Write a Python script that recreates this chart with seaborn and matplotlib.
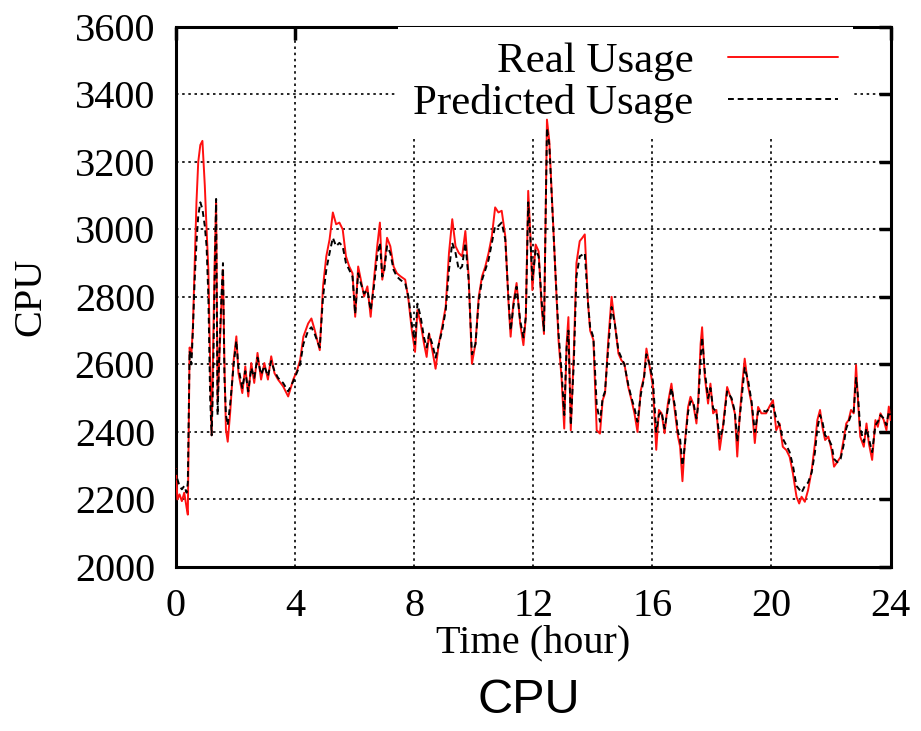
import matplotlib
matplotlib.use("Agg")
import matplotlib.pyplot as plt
import numpy as np
import pandas as pd
import seaborn as sns

# ---------------- data ----------------
hours = [0.00, 0.05, 0.12, 0.20, 0.28, 0.36, 0.40, 0.46, 0.52, 0.57, 0.63, 0.69, 0.75, 0.82, 0.89, 0.97,
         1.03, 1.09, 1.15, 1.20, 1.25, 1.30, 1.35, 1.40, 1.46, 1.52, 1.58, 1.63, 1.68, 1.74, 1.82, 1.94,
         2.03, 2.10, 2.23, 2.33, 2.43, 2.53, 2.63, 2.74, 2.86, 2.97, 3.09, 3.20, 3.31, 3.43, 3.60, 3.77,
         3.94, 4.06, 4.17, 4.28, 4.44, 4.55, 4.66, 4.83, 4.94, 5.05, 5.16, 5.27, 5.38, 5.49, 5.60, 5.71,
         5.82, 5.93, 6.02, 6.12, 6.21, 6.32, 6.43, 6.54, 6.65, 6.76, 6.85, 6.93, 7.00, 7.09, 7.20, 7.31,
         7.42, 7.54, 7.70, 7.81, 7.92, 8.03, 8.11, 8.22, 8.33, 8.42, 8.50, 8.61, 8.72, 8.83, 8.94, 9.06,
         9.17, 9.28, 9.39, 9.50, 9.61, 9.72, 9.83, 9.94, 10.06, 10.17, 10.28, 10.39, 10.50, 10.61, 10.72,
         10.83, 10.94, 11.06, 11.17, 11.24, 11.33, 11.44, 11.56, 11.67, 11.75, 11.83, 11.90, 11.97, 12.08,
         12.18, 12.28, 12.36, 12.46, 12.54, 12.63, 12.74, 12.85, 12.95, 13.04, 13.12, 13.18, 13.26, 13.36,
         13.45, 13.56, 13.65, 13.73, 13.84, 13.91, 14.02, 14.13, 14.24, 14.33, 14.41, 14.52, 14.63, 14.74,
         14.86, 14.96, 15.06, 15.19, 15.30, 15.40, 15.50, 15.61, 15.72, 15.80, 15.91, 16.02, 16.13, 16.22,
         16.31, 16.41, 16.52, 16.64, 16.75, 16.86, 16.93, 17.01, 17.09, 17.20, 17.28, 17.37, 17.48, 17.54,
         17.62, 17.67, 17.76, 17.87, 17.95, 18.04, 18.15, 18.26, 18.37, 18.51, 18.66, 18.77, 18.85, 18.93,
         19.02, 19.10, 19.22, 19.33, 19.44, 19.55, 19.66, 19.82, 19.93, 20.05, 20.16, 20.27, 20.38, 20.50,
         20.61, 20.72, 20.84, 20.93, 21.01, 21.12, 21.23, 21.35, 21.46, 21.54, 21.63, 21.71, 21.80, 21.91,
         22.02, 22.10, 22.21, 22.32, 22.42, 22.51, 22.59, 22.67, 22.76, 22.84, 22.91, 22.98, 23.10, 23.19,
         23.27, 23.38, 23.49, 23.57, 23.66, 23.77, 23.86, 23.94, 24.00]

real_usage = [2290, 2200, 2215, 2195, 2220, 2175, 2155, 2650, 2630, 2710, 2900, 3080, 3200, 3250, 3262, 3130,
              3000, 2880, 2600, 2390, 2640, 2900, 3080, 2490, 2620, 2760, 2880, 2600, 2406, 2371, 2455, 2614,
              2683, 2574, 2515, 2594, 2505, 2604, 2545, 2634, 2555, 2604, 2555, 2624, 2574, 2555, 2535, 2505,
              2555, 2580, 2612, 2682, 2721, 2736, 2702, 2642, 2831, 2920, 2970, 3050, 3015, 3020, 3000, 2920,
              2890, 2870, 2741, 2890, 2851, 2801, 2831, 2741, 2851, 2950, 3020, 2851, 2890, 2975, 2950, 2890,
              2870, 2861, 2851, 2791, 2702, 2637, 2761, 2721, 2662, 2622, 2692, 2642, 2587, 2662, 2711, 2771,
              2930, 3030, 2950, 2930, 2920, 2995, 2861, 2602, 2662, 2801, 2861, 2890, 2930, 2980, 3065,
              3050, 3055, 2980, 2781, 2682, 2781, 2841, 2721, 2657, 2741, 3114, 2990, 2820, 2955,
              2935, 2770, 2690, 3325, 3260, 3090, 2880, 2670, 2560, 2410, 2660, 2740, 2405, 2630,
              2900, 2965, 2975, 2985, 2780, 2700, 2672, 2405, 2395, 2494, 2514, 2672, 2800, 2721,
              2632, 2612, 2602, 2533, 2494, 2454, 2400, 2523, 2563, 2647, 2592, 2533, 2347, 2465,
              2455, 2396, 2484, 2543, 2465, 2386, 2357, 2254, 2367, 2474, 2504, 2484, 2425, 2494,
              2661, 2710, 2563, 2484, 2543, 2455, 2465, 2347, 2416, 2533, 2494, 2455, 2327, 2445,
              2543, 2617, 2533, 2484, 2367, 2474, 2455, 2455, 2475, 2494, 2405, 2425, 2356, 2346,
              2326, 2277, 2208, 2188, 2208, 2193, 2228, 2287, 2366, 2435, 2465, 2415, 2376, 2386,
              2346, 2297, 2311, 2326, 2376, 2425, 2435, 2465, 2455, 2598, 2484, 2386, 2356, 2425,
              2366, 2317, 2435, 2415, 2455, 2435, 2405, 2475, 2435]

predicted_usage = [2290, 2260, 2240, 2230, 2240, 2220, 2250, 2640, 2600, 2700, 2850, 2960, 3040, 3080, 3060, 3010,
                   2950, 2800, 2500, 2390, 2560, 2850, 3090, 2450, 2640, 2780, 2900, 2560, 2450, 2420, 2480, 2600,
                   2670, 2590, 2530, 2580, 2520, 2590, 2560, 2620, 2570, 2595, 2565, 2610, 2580, 2560, 2545, 2520,
                   2550, 2575, 2600, 2660, 2700, 2710, 2690, 2650, 2800, 2880, 2930, 2975, 2950, 2960, 2950, 2900,
                   2880, 2860, 2750, 2870, 2840, 2810, 2820, 2760, 2830, 2920, 2960, 2860, 2880, 2950, 2930, 2880,
                   2860, 2850, 2840, 2800, 2720, 2660, 2780, 2740, 2680, 2650, 2690, 2660, 2620, 2660, 2700, 2760,
                   2880, 2960, 2930, 2880, 2890, 2960, 2850, 2630, 2660, 2790, 2850, 2880, 2910, 2960, 3010,
                   3010, 3020, 2970, 2790, 2700, 2770, 2830, 2730, 2680, 2740, 3080, 2980, 2850, 2940,
                   2920, 2790, 2700, 3300, 3250, 3080, 2880, 2690, 2580, 2450, 2650, 2700, 2420, 2600,
                   2860, 2920, 2925, 2930, 2780, 2710, 2680, 2480, 2430, 2500, 2520, 2650, 2770, 2720,
                   2640, 2620, 2600, 2540, 2500, 2470, 2430, 2510, 2560, 2630, 2600, 2550, 2400, 2450,
                   2460, 2410, 2470, 2530, 2480, 2400, 2380, 2300, 2360, 2460, 2490, 2490, 2440, 2480,
                   2620, 2680, 2580, 2500, 2530, 2470, 2460, 2380, 2410, 2520, 2500, 2460, 2370, 2440,
                   2520, 2590, 2550, 2490, 2400, 2460, 2465, 2460, 2470, 2480, 2440, 2420, 2380, 2360,
                   2340, 2300, 2240, 2230, 2220, 2240, 2250, 2280, 2340, 2410, 2450, 2430, 2390, 2380,
                   2360, 2320, 2310, 2320, 2360, 2410, 2430, 2450, 2460, 2560, 2500, 2410, 2370, 2410,
                   2380, 2340, 2420, 2430, 2450, 2440, 2420, 2460, 2450]

x_ticks = [0, 4, 8, 12, 16, 20, 24]
y_ticks = [2000, 2200, 2400, 2600, 2800, 3000, 3200, 3400, 3600]

df = pd.DataFrame({"hour": hours, "Real Usage": real_usage, "Predicted Usage": predicted_usage})

# ---------------- styling ----------------
sns.set_theme(style="white")
plt.rcParams["font.family"] = ["Liberation Serif", "DejaVu Serif"]
plt.rcParams["text.color"] = "black"
plt.rcParams["axes.labelcolor"] = "black"
plt.rcParams["xtick.color"] = "black"
plt.rcParams["ytick.color"] = "black"

fig = plt.figure(figsize=(9.21, 7.31), dpi=100)
ax = fig.add_axes([0.191, 0.2244, 0.776, 0.739])

sns.lineplot(data=df, x="hour", y="Real Usage", ax=ax, color="#ff1010", lw=1.4,
             label="Real Usage", zorder=3)
sns.lineplot(data=df, x="hour", y="Predicted Usage", ax=ax, color="black", lw=1.4,
             linestyle=(0, (3, 2)), label="Predicted Usage", zorder=4)

ax.set_xlim(0, 24)
ax.set_ylim(2000, 3600)
ax.set_xticks(x_ticks)
ax.set_yticks(y_ticks)
ax.set_axisbelow(True)
ax.grid(True, color="black", linestyle=(0, (1.5, 2.2)), lw=1.2)

for s in ax.spines.values():
    s.set_visible(True)
    s.set_color("black")
    s.set_linewidth(2.2)

ax.tick_params(direction="in", length=9, width=2.5, top=True, right=True,
               labelsize=29, pad=15, colors="black")

ax.set_xlabel("Time (hour)", fontsize=29, labelpad=0, color="black")
ax.set_ylabel("CPU", fontsize=29, labelpad=18, color="black")

leg = ax.legend(loc="upper right", bbox_to_anchor=(0.948, 1.0), markerfirst=False,
                fontsize=31, handlelength=2.55, handletextpad=0.8, labelspacing=0.05,
                borderpad=0.36, borderaxespad=0, frameon=True, fancybox=False,
                framealpha=1, facecolor="white", edgecolor="none")
for col in leg._legend_handle_box.get_children():
    col.align = "right"
for t in leg.get_texts():
    t.set_color("black")
leg.set_zorder(2.5)

fig.text(0.574, 0.042, "CPU", fontsize=35, family=["Liberation Sans", "DejaVu Sans"],
         ha="center", va="center", color="black")

fig.savefig("out.png", dpi=100)
